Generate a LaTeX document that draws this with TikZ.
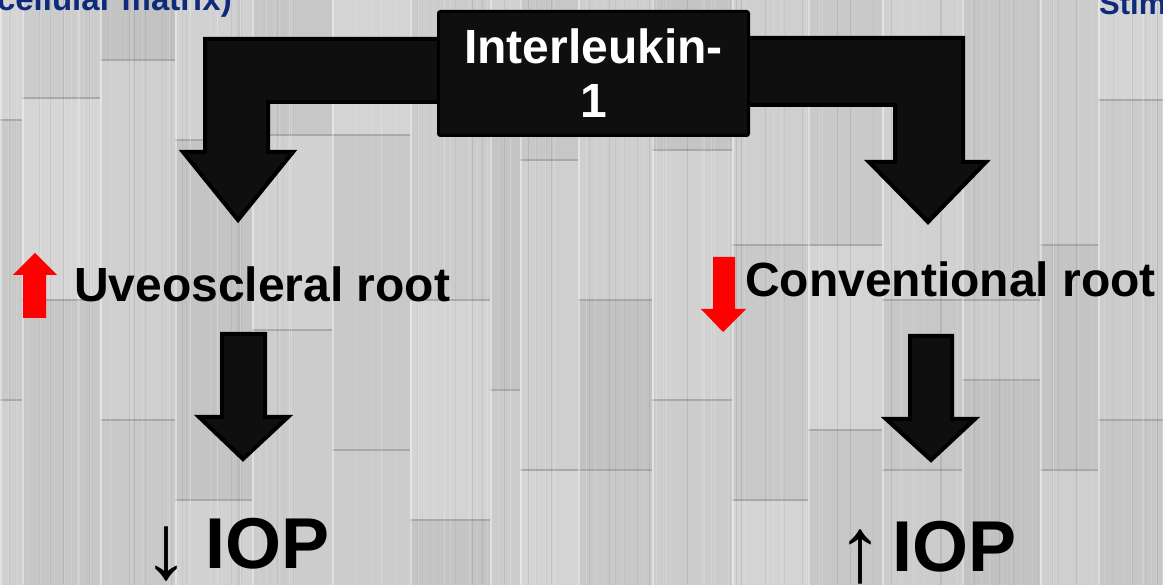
\documentclass[tikz,border=0pt]{standalone}
\usepackage{fontspec}
\setmainfont{Liberation Sans}
\newfontfamily\arrowfont{Liberation Serif}
\definecolor{navy}{RGB}{14,42,122}
\definecolor{blk}{RGB}{15,15,15}
\definecolor{redarrow}{RGB}{255,0,0}
\begin{document}
\begin{tikzpicture}[x=1pt,y=-1pt,
  blockarrow/.style={fill=blk, draw=black, line width=4pt, line join=miter},
  redblock/.style={fill=redarrow},
  ilbox/.style={fill=blk, draw=black, line width=3pt, rounded corners=2pt, minimum width=310pt, minimum height=124pt, inner sep=0pt, align=center, text=white, font=\fontsize{48}{54}\selectfont\bfseries},
  label/.style={anchor=base west, inner sep=0pt, font=\fontsize{48}{54}\selectfont\bfseries},
  ioplabel/.style={anchor=base west, inner sep=0pt, font=\fontsize{72}{80}\selectfont\bfseries},
  toptext/.style={inner sep=0pt, text=navy, font=\fontsize{33}{38}\selectfont\bfseries},
  seam/.style={black!34, line width=1.2pt},
  edge/.style={white, opacity=0.4, line width=1.2pt}]
\useasboundingbox (0,0) rectangle (1163,585);
% wood background
\begin{scope}
\clip (0,0) rectangle (1163,585);
\fill[black!22] (0,0) rectangle (1163,585);
\foreach \xa/\xb/\ya/\yb/\ca/\cb/\cc in {
0/22/120/400/17/21/19,
22/100/98/300/20/16/22,
100/175/60/420/24/19/21,
175/252/140/500/18/23/18,
252/332/135/330/22/18/20,
332/410/135/450/17/21/20,
410/490/300/520/20/17/23,
490/520/45/390/18/23/20,
520/578/160/470/22/19/17,
578/652/300/470/19/24/21,
652/732/150/400/23/18/20,
732/808/245/500/19/21/17,
808/882/245/430/21/17/22,
882/962/300/470/18/22/20,
962/1040/300/380/22/20/24,
1040/1098/245/470/20/23/19,
1098/1163/100/420/17/20/22}
{
  \fill[black!\ca] (\xa,0) rectangle (\xb,\ya);
  \fill[black!\cb] (\xa,\ya) rectangle (\xb,\yb);
  \fill[black!\cc] (\xa,\yb) rectangle (\xb,585);
  \draw[seam] (\xa,\ya) -- (\xb,\ya);
  \draw[seam] (\xa,\yb) -- (\xb,\yb);
  \draw[edge] (\xa+1,0) -- (\xa+1,585);
}
\pgfmathsetseed{42}
\foreach \i in {1,...,120}{
  \pgfmathsetmacro\xx{rnd*1163}
  \pgfmathsetmacro\op{0.05+0.15*rnd}
  \draw[white, opacity=\op, line width=1pt] (\xx,0) -- (\xx,585);
}
\foreach \i in {1,...,60}{
  \pgfmathsetmacro\xx{rnd*1163}
  \pgfmathsetmacro\op{0.03+0.07*rnd}
  \draw[black, opacity=\op, line width=1pt] (\xx,0) -- (\xx,585);
}
\end{scope}
% top cut texts
\node[toptext, anchor=base east] (topL) at (232,11) {cellular matrix)};
\node[toptext, anchor=base west, font=\fontsize{31}{36}\selectfont\bfseries] (topR) at (1099,15) {Stim};
% bent arrows
\path[blockarrow] (480,39) -- (205,39) -- (205,152) -- (183,152) -- (238,220) -- (293,152) -- (268,152) -- (268,102) -- (480,102) -- cycle;
\path[blockarrow] (700,38) -- (963,38) -- (963,162) -- (986,162) -- (928,222) -- (869,162) -- (895,162) -- (895,105) -- (700,105) -- cycle;
% central box
\node[ilbox] (il) at (593.5,73.5) {Interleukin-\\1};
% red arrows
\path[redblock] (23,318) -- (23,275) -- (13,275) -- (35,253) -- (57,275) -- (46,275) -- (46,318) -- cycle;
\path[redblock] (713,257) -- (735,257) -- (735,309) -- (746,309) -- (723,332) -- (701,309) -- (713,309) -- cycle;
% labels
\node[label] (uveo) at (74,302) {Uveoscleral root};
\node[label] (conv) at (745,297) {Conventional root};
% middle arrows
\path[blockarrow] (222,334) -- (265,334) -- (265,417) -- (288,417) -- (243,459) -- (199,417) -- (222,417) -- cycle;
\path[blockarrow] (910,336) -- (952,336) -- (952,419) -- (975,419) -- (931,460) -- (886,419) -- (910,419) -- cycle;
% IOP
\node[ioplabel] (iopL) at (143,568) {\raisebox{-10pt}{\arrowfont\mdseries\fontsize{92}{96}\selectfont ↓}\hspace{16pt}IOP};
\node[ioplabel] (iopR) at (837,571) {\raisebox{-10pt}{\arrowfont\mdseries\fontsize{92}{96}\selectfont ↑}\hspace{9pt}IOP};
\end{tikzpicture}
\end{document}
